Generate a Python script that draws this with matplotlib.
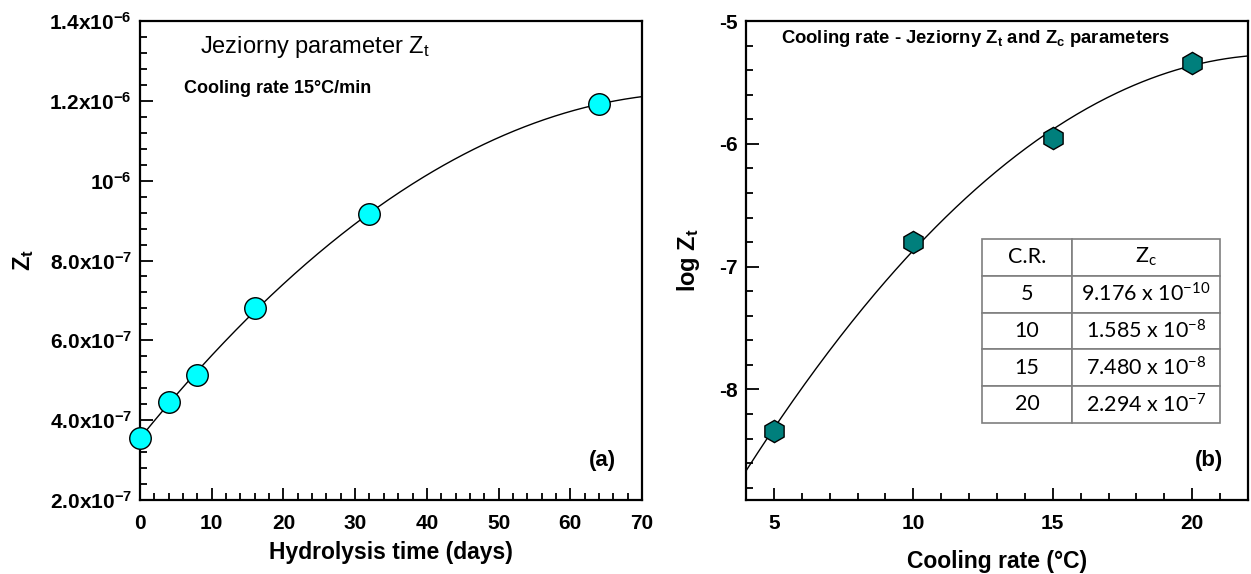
import numpy as np
import matplotlib
matplotlib.use('Agg')
import matplotlib.pyplot as plt
from matplotlib.ticker import FixedLocator, FixedFormatter, MultipleLocator

plt.rcParams['font.family'] = ['Liberation Sans', 'DejaVu Sans']
plt.rcParams['mathtext.default'] = 'regular'
plt.rcParams['axes.unicode_minus'] = False

# panel (a): Z_t vs hydrolysis time, cooling rate 15 C/min
days = [0, 4, 8, 16, 32, 64]
zt = [3.55e-7, 4.45e-7, 5.13e-7, 6.81e-7, 9.16e-7, 1.192e-6]
a_yticks = [2e-7, 4e-7, 6e-7, 8e-7, 1e-6, 1.2e-6, 1.4e-6]
a_yticklabels = [r'2.0x10$^{-7}$', r'4.0x10$^{-7}$', r'6.0x10$^{-7}$', r'8.0x10$^{-7}$',
                 r'10$^{-6}$', r'1.2x10$^{-6}$', r'1.4x10$^{-6}$']

# panel (b): log Z_t vs cooling rate
rates = [5, 10, 15, 20]
log_zt = [-8.34, -6.80, -5.95, -5.34]

# table of Z_c values
table_rates = ['5', '10', '15', '20']
table_zc = [r'9.176 x 10$^{-10}$', r'1.585 x 10$^{-8}$',
            r'7.480 x 10$^{-8}$', r'2.294 x 10$^{-7}$']

fig = plt.figure(figsize=(12.51, 5.74), dpi=100)
ax1 = fig.add_axes([0.1119, 0.1289, 0.4013, 0.8345])
ax2 = fig.add_axes([0.5963, 0.1289, 0.4013, 0.8345])


def style(ax):
    for s in ['top', 'right', 'left', 'bottom']:
        ax.spines[s].set_linewidth(1.6)
    ax.tick_params(which='both', direction='in', top=False, right=False, width=1.3)
    ax.tick_params(which='major', length=9, labelsize=15)
    ax.tick_params(axis='x', which='major', pad=10)
    ax.tick_params(axis='y', which='major', pad=6)
    ax.tick_params(which='minor', length=5)
    for lab in ax.get_xticklabels() + ax.get_yticklabels():
        lab.set_fontweight('bold')


# ---- (a) ----
coef = np.polyfit(days, zt, 2)
xs = np.linspace(0, 70, 300)
ax1.plot(xs, np.polyval(coef, xs), color='black', lw=1, zorder=2)
ax1.plot(days, zt, 'o', ms=15.5, mfc='#00FFFF', mec='black', mew=1, zorder=3, clip_on=False)
ax1.set_xlim(0, 70)
ax1.set_ylim(2e-7, 1.4e-6)
ax1.xaxis.set_major_locator(MultipleLocator(10))
ax1.xaxis.set_minor_locator(MultipleLocator(2))
ax1.yaxis.set_major_locator(FixedLocator(a_yticks))
ax1.yaxis.set_major_formatter(FixedFormatter(a_yticklabels))
ax1.yaxis.set_minor_locator(MultipleLocator(4e-8))
style(ax1)
ax1.set_xlabel('Hydrolysis time (days)', fontsize=16.5, fontweight='bold', labelpad=6)
ax1.set_ylabel('Z$_t$', fontsize=17, fontweight='bold', labelpad=10)
ax1.text(0.12, 0.946, 'Jeziorny parameter Z$_t$', transform=ax1.transAxes,
         fontsize=17, va='center', ha='left')
ax1.text(0.088, 0.860, 'Cooling rate 15°C/min', transform=ax1.transAxes,
         fontsize=13, fontweight='bold', va='center', ha='left')
ax1.text(0.922, 0.083, '(a)', transform=ax1.transAxes,
         fontsize=16, fontweight='bold', va='center', ha='center')

# ---- (b) ----
coef2 = np.polyfit(rates, log_zt, 2)
xs2 = np.linspace(4, 22, 300)
ax2.plot(xs2, np.polyval(coef2, xs2), color='black', lw=1, zorder=2)
ax2.plot(rates, log_zt, 'h', ms=16, mfc='#007F7C', mec='black', mew=1, zorder=3)
ax2.set_xlim(4, 22)
ax2.set_ylim(-8.9, -5)
ax2.xaxis.set_major_locator(MultipleLocator(5))
ax2.xaxis.set_minor_locator(MultipleLocator(1))
ax2.yaxis.set_major_locator(MultipleLocator(1))
ax2.yaxis.set_minor_locator(MultipleLocator(0.2))
style(ax2)
ax2.set_xlabel('Cooling rate (°C)', fontsize=16.5, fontweight='bold', labelpad=12)
ax2.set_ylabel('log Z$_t$', fontsize=17, fontweight='bold', labelpad=12)
ax2.text(0.07, 0.964, 'Cooling rate - Jeziorny Z$_t$ and Z$_c$ parameters',
         transform=ax2.transAxes, fontsize=13.3, fontweight='bold', va='center', ha='left')
ax2.text(0.922, 0.083, '(b)', transform=ax2.transAxes,
         fontsize=16, fontweight='bold', va='center', ha='center')

cells = [[r, z] for r, z in zip(table_rates, table_zc)]
tab = ax2.table(cellText=cells, colLabels=['C.R.', 'Z$_c$'], cellLoc='center',
                colWidths=[0.378, 0.622], bbox=[0.470, 0.161, 0.474, 0.384])
tab.auto_set_font_size(False)
for (r, c), cell in tab.get_celld().items():
    cell.set_edgecolor('#7f7f7f')
    cell.set_linewidth(1.2)
    cell.set_facecolor('white')
    cell.get_text().set_fontfamily(['Lato', 'DejaVu Sans'])
    cell.get_text().set_fontsize(15.5)

fig.savefig('out.png', dpi=100)
